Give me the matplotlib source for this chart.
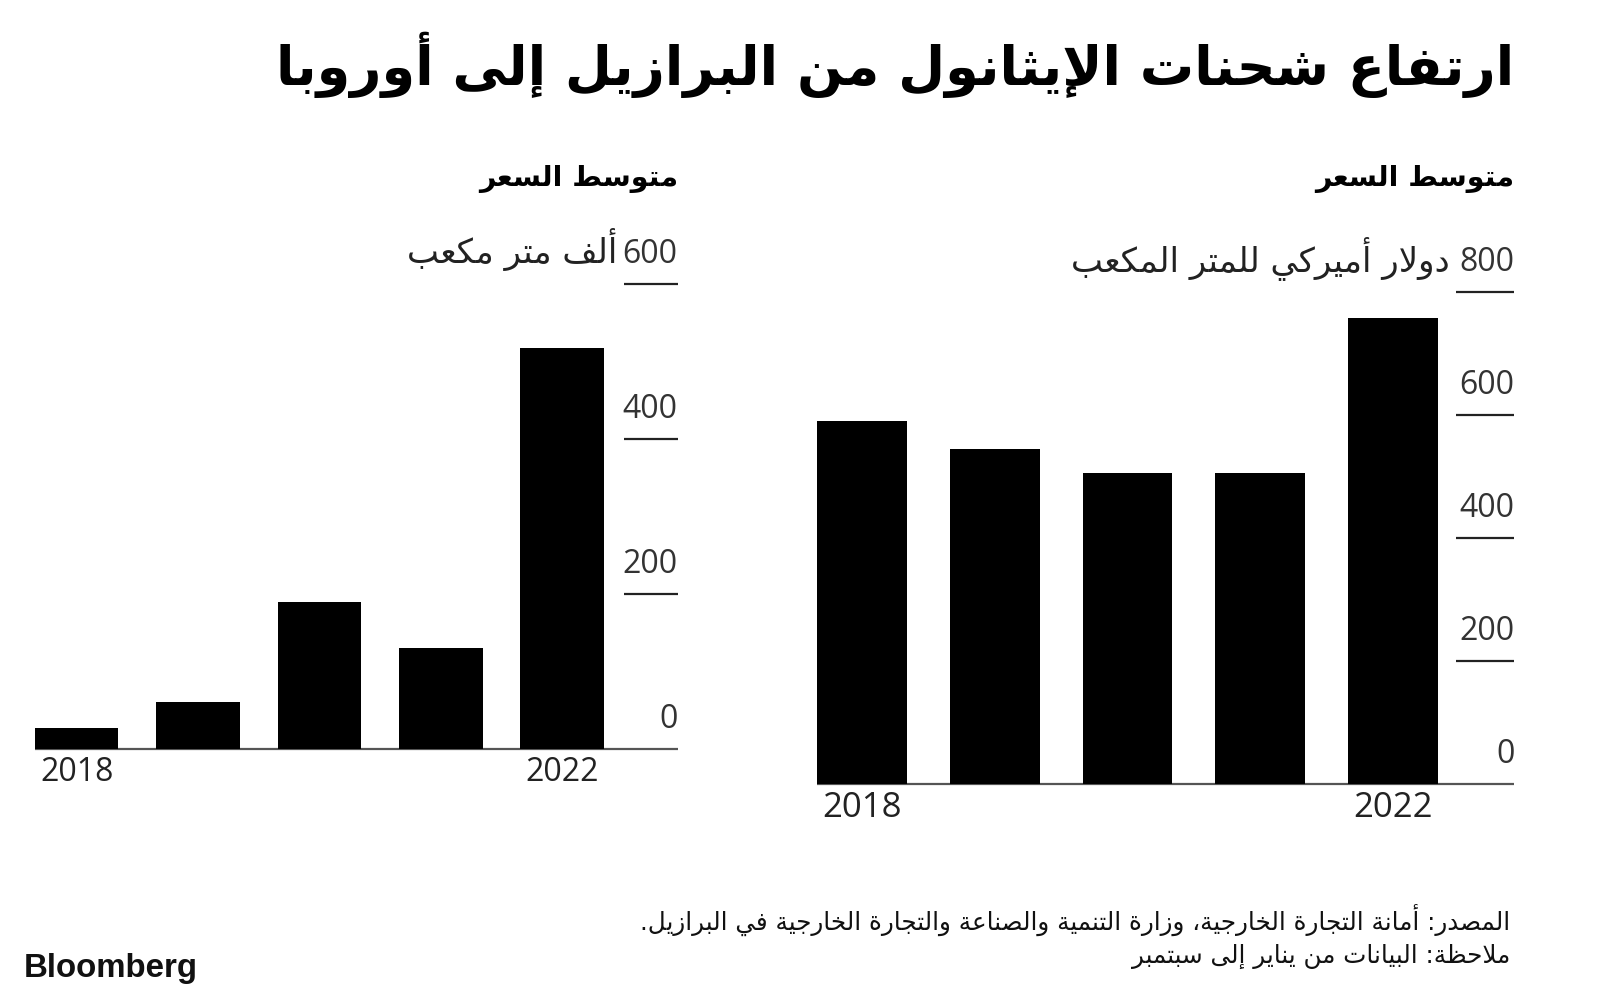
import re
import matplotlib
matplotlib.use('Agg')
import matplotlib.pyplot as plt

# data
years = ['2018', '2019', '2020', '2021', '2022']
volume = [27, 61, 190, 130, 518]      # thousand cubic metres
price = [590, 545, 506, 506, 758]     # USD per cubic metre
volume_ticks = [0, 200, 400, 600]
price_ticks = [0, 200, 400, 600, 800]

title = 'ارتفاع شحنات الإيثانول من البرازيل إلى أوروبا'
panel_title = 'متوسط السعر'
volume_unit = 'ألف متر مكعب'
price_unit = 'دولار أميركي للمتر المكعب'
source = 'المصدر: أمانة التجارة الخارجية، وزارة التنمية والصناعة والتجارة الخارجية في البرازيل.'
note = 'ملاحظة: البيانات من يناير إلى سبتمبر'

# --- tiny arabic shaper: matplotlib has no shaping/bidi of its own ---
order = [(0x621, 1), (0x622, 2), (0x623, 2), (0x624, 2), (0x625, 2), (0x626, 4),
         (0x627, 2), (0x628, 4), (0x629, 2)]
order += [(c, 4) for c in range(0x62A, 0x62F)]
order += [(c, 2) for c in range(0x62F, 0x633)]
order += [(c, 4) for c in range(0x633, 0x63B)]
order += [(c, 4) for c in range(0x641, 0x648)]
order += [(0x648, 2), (0x649, 2), (0x64A, 4)]
FORMS = {}
base = 0xFE80
for cp, n in order:
    FORMS[chr(cp)] = (base, n)
    base += n
LAM_ALEF = {'\u0622': 0xFEF5, '\u0623': 0xFEF7, '\u0625': 0xFEF9, '\u0627': 0xFEFB}


def shape(text):
    units = []
    i = 0
    while i < len(text):
        c = text[i]
        if c == '\u0644' and i + 1 < len(text) and text[i + 1] in LAM_ALEF:
            units.append((None, LAM_ALEF[text[i + 1]], 2))
            i += 2
            continue
        if c in FORMS:
            b, n = FORMS[c]
            units.append((c, b, n))
        else:
            units.append((c, None, 0))
        i += 1
    out = []
    for k, (c, b, n) in enumerate(units):
        if b is None:
            out.append(c)
            continue
        prev = units[k - 1] if k > 0 else None
        nxt = units[k + 1] if k + 1 < len(units) else None
        join_prev = n > 1 and prev is not None and prev[2] == 4
        join_next = n == 4 and nxt is not None and nxt[2] >= 2
        if join_prev and join_next:
            g = b + 3
        elif join_prev:
            g = b + 1
        elif join_next:
            g = b + 2
        else:
            g = b
        out.append(chr(g))
    return ''.join(out)


def rtl(text):
    runs = re.findall(r'[0-9]+|[^0-9]+', shape(text))
    return ''.join(r if r[0].isdigit() else r[::-1] for r in reversed(runs))


W, H = 1600, 1003
fig = plt.figure(figsize=(16, 10.03), dpi=100)
fig.patch.set_facecolor('white')
AR = ['DejaVu Sans']


def fx(x):
    return x / W


def fy(y):
    return 1 - y / H


def panel(left, top, right, bottom, values, ticks, lo, hi, tick_start, width, year_size):
    ax = fig.add_axes([fx(left), fy(bottom), (right - left) / W, (bottom - top) / H])
    ax.bar(range(len(values)), values, width=width, color='black', zorder=2)
    ax.set_xlim(lo, hi)
    ax.set_ylim(0, ticks[-1])
    ax.axis('off')
    for v in ticks:
        x0 = lo if v == 0 else tick_start
        ax.plot([x0, hi], [v, v], color='#222' if v else '#555', lw=1.6,
                clip_on=False, solid_capstyle='butt', zorder=1)
        ax.annotate(str(v), xy=(hi, v), xytext=(0, 15.8), textcoords='offset points',
                    ha='right', va='baseline', fontsize=23, family='Open Sans', color='#333')
    for i in (0, len(values) - 1):
        ax.annotate(years[i], xy=(i, 0), xytext=(0, -4), textcoords='offset points',
                    ha='center', va='top', fontsize=year_size, family='Open Sans', color='#222')
    return ax


panel(34.7, 285, 677.6, 750, volume, volume_ticks, -0.345, 4.951, 4.506, 0.689, 23)
panel(817.3, 293, 1514.3, 785, price, price_ticks, -0.338, 4.916, 4.476, 0.677, 25)

fig.text(fx(1514), fy(65), rtl(title), ha='right', va='center', fontsize=39,
         fontweight='bold', family=AR)
fig.text(fx(678), fy(179), rtl(panel_title), ha='right', va='center', fontsize=20.5,
         fontweight='bold', family=AR)
fig.text(fx(1514), fy(179), rtl(panel_title), ha='right', va='center', fontsize=20.5,
         fontweight='bold', family=AR)
fig.text(fx(617), fy(263), rtl(volume_unit), ha='right', va='baseline', fontsize=24.5,
         family=AR, color='#222')
fig.text(fx(1450), fy(271), rtl(price_unit), ha='right', va='baseline', fontsize=24.5,
         family=AR, color='#222')
fig.text(fx(1510), fy(920), rtl(source), ha='right', va='center', fontsize=17.7,
         family=AR, color='#111')
fig.text(fx(1510), fy(956), rtl(note), ha='right', va='center', fontsize=17.7,
         family=AR, color='#111')
fig.text(fx(24), fy(969), 'Bloomberg', ha='left', va='center', fontsize=23.8,
         fontweight='bold', family='Liberation Sans', color='#111')

fig.savefig('out.png', dpi=100, facecolor='white')
